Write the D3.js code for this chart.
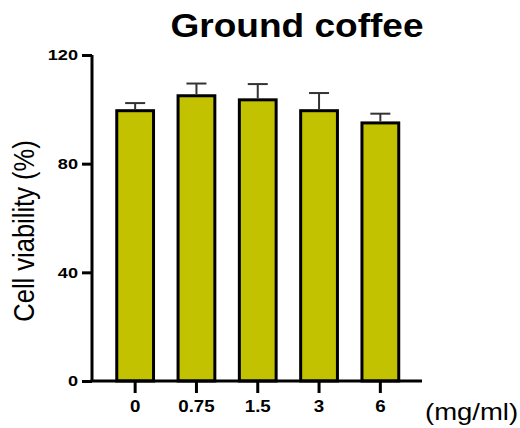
<!DOCTYPE html>
<html>
<head>
<meta charset="utf-8">
<script src="https://cdn.jsdelivr.net/npm/d3@7"></script>
<style>
  html, body { margin: 0; padding: 0; background: #fff; }
  svg { display: block; font-family: "Liberation Sans", Arial, sans-serif; }
</style>
</head>
<body>
<svg id="chart" width="520" height="428"></svg>
<script>
// Cell viability after exposure to ground coffee extract
const doses = ["0", "0.75", "1.5", "3", "6"];
const viability = [99.5, 105, 103.5, 99.5, 95];
const errors = [2.8, 4.5, 5.8, 6.5, 3.4];
const yTicks = [0, 40, 80, 120];

// text in this figure is set slightly wide
const WIDE = 1.17;

const svg = d3.select("#chart");

const x = d3.scaleBand()
  .domain(doses)
  .range([104.5, 411])
  .paddingInner(0.4)
  .paddingOuter(0.2);

const y = d3.scaleLinear().domain([0, 120]).range([381, 55]);

const axisX = 92;

// bars
svg.append("g")
  .selectAll("rect")
  .data(doses)
  .join("rect")
  .attr("x", d => x(d))
  .attr("y", (d, i) => y(viability[i]))
  .attr("width", x.bandwidth())
  .attr("height", (d, i) => y(0) - y(viability[i]))
  .attr("fill", "#c2c200")
  .attr("stroke", "#000")
  .attr("stroke-width", 3);

// error bars (upper only)
const eb = svg.append("g").attr("stroke", "#333").attr("stroke-width", 2);
doses.forEach((d, i) => {
  const cx = x(d) + x.bandwidth() / 2;
  const top = y(viability[i] + errors[i]);
  eb.append("line")
    .attr("x1", cx).attr("x2", cx)
    .attr("y1", y(viability[i]) - 1.5).attr("y2", top);
  eb.append("line")
    .attr("x1", cx - 10).attr("x2", cx + 10)
    .attr("y1", top).attr("y2", top);
});

// y axis
const yAxis = d3.axisLeft(y).tickValues(yTicks).tickSize(10).tickPadding(4);
const gy = svg.append("g").attr("transform", `translate(${axisX},0)`).call(yAxis);
gy.select(".domain").attr("stroke", "#000").attr("stroke-width", 3)
  .attr("d", `M0,${y(120)}V${y(0)}`);
gy.selectAll(".tick line").attr("stroke", "#000").attr("stroke-width", 3);
gy.selectAll(".tick text")
  .attr("fill", "#000")
  .attr("x", -14 / WIDE)
  .attr("transform", `scale(${WIDE},1)`)
  .style("font-size", "15.5px")
  .style("font-weight", "bold")
  .style("font-family", "Liberation Sans, Arial, sans-serif");

// x axis
const xAxis = d3.axisBottom(x).tickSize(12).tickPadding(8).tickSizeOuter(0);
const gx = svg.append("g").attr("transform", `translate(0,${y(0)})`).call(xAxis);
gx.select(".domain").attr("stroke", "#000").attr("stroke-width", 3)
  .attr("d", `M${axisX - 1.5},0H422`);
gx.selectAll(".tick line").attr("stroke", "#000").attr("stroke-width", 3);
gx.selectAll(".tick text")
  .attr("fill", "#000")
  .attr("transform", `scale(${WIDE},1)`)
  .style("font-size", "16px")
  .style("font-weight", "bold")
  .style("font-family", "Liberation Sans, Arial, sans-serif");

// unit label
svg.append("text")
  .attr("transform", `translate(425,420) scale(${WIDE},1)`)
  .style("font-size", "23.5px")
  .text("(mg/ml)");

// y axis title
svg.append("text")
  .attr("transform", `translate(34,231) scale(${WIDE},1) rotate(-90)`)
  .attr("text-anchor", "middle")
  .style("font-size", "25.5px")
  .text("Cell viability (%)");

// title
svg.append("text")
  .attr("transform", `translate(297,37) scale(1.14,1)`)
  .attr("text-anchor", "middle")
  .style("font-size", "32.5px")
  .style("font-weight", "bold")
  .text("Ground coffee");
</script>
</body>
</html>
